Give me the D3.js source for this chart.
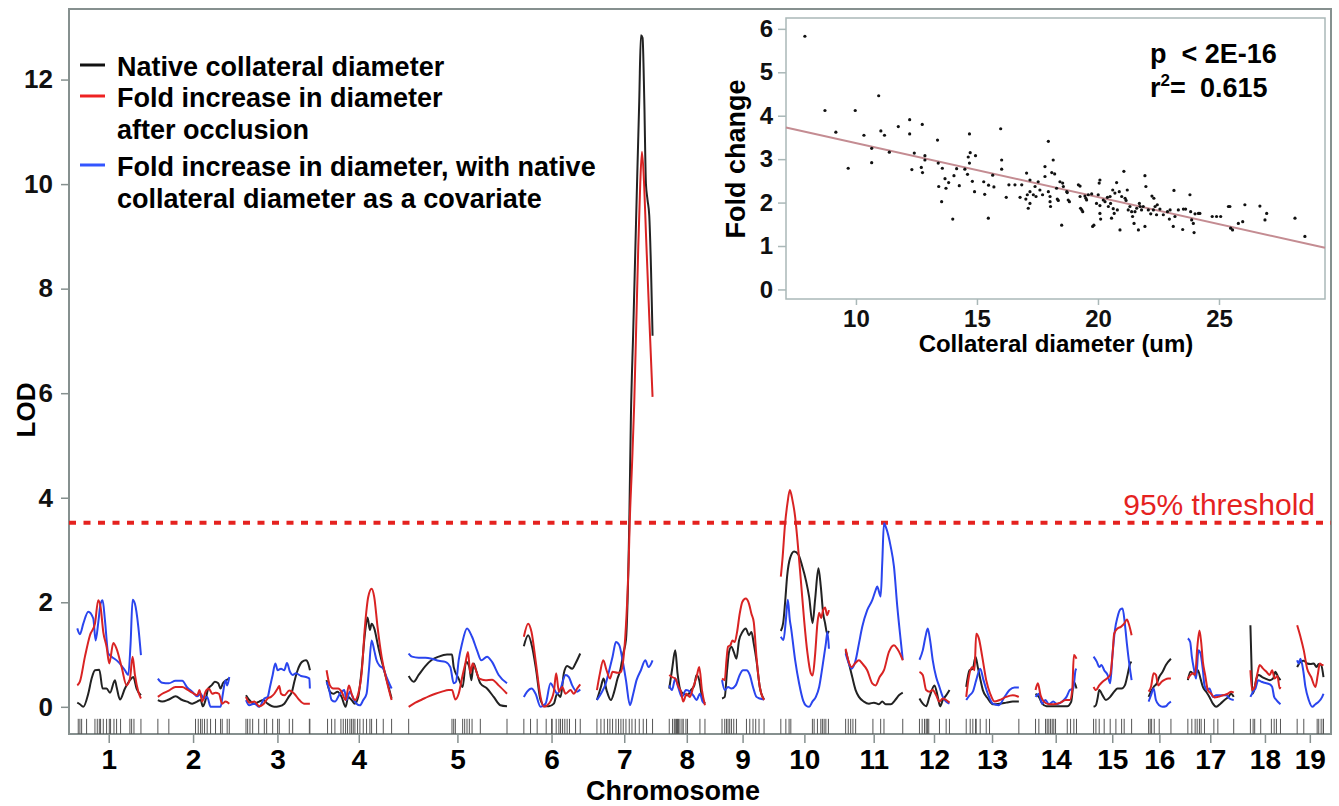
<!DOCTYPE html>
<html>
<head>
<meta charset="utf-8">
<script src="https://cdn.jsdelivr.net/npm/d3@7/dist/d3.min.js"></script>
<style>
  body { margin: 0; background: #fff; }
  text { font-family: "Liberation Sans", Arial, Helvetica, sans-serif; }
</style>
</head>
<body>
<svg id="chart" width="1339" height="806"></svg>
<script>
// ---- data ----
var chromosomes = ["1","2","3","4","5","6","7","8","9","10","11","12","13","14","15","16","17","18","19"];
var chromLength = [85, 95, 85, 87, 131, 75, 74, 48, 56, 64, 76, 40, 70, 55, 51, 30, 61, 40, 35]; // cM
var lodTicks = [0, 2, 4, 6, 8, 10, 12];
var threshold95 = 3.52;

// native collateral diameter (black), [cM, LOD] per chromosome
var lodNative = [
  [[0,.08],[3.5,.05],[8,0],[14.6,.25],[19.1,.54],[23.5,.70],[29.3,.71],[33.7,.35],[39,.35],[43.5,.27],[50.1,.51],[52.3,.38],[56.8,.14],[63.4,.35],[70.1,.51],[74.5,.57],[78.9,.35],[84.7,.22]],
  [[0,.13],[5.8,.10],[14.6,.14],[23.5,.20],[32.4,.13],[39,.10],[45.7,.06],[52.3,.10],[56.8,.13],[59.9,.01],[63.4,.13],[67,.35],[71.4,.41],[75.8,.48],[80.3,.45],[83.4,.35],[86.5,.45],[90,.50],[94.5,.54]],
  [[0,.22],[4.4,.13],[11.1,.06],[17.7,.10],[23.1,.13],[28.8,.06],[37.7,0],[44.3,.01],[51,.06],[56.8,.19],[61.2,.29],[64.3,.48],[68.7,.70],[74.5,.86],[79.8,.89],[83.4,.80],[85.1,.70]],
  [[0,.51],[4.4,.29],[8.9,.25],[14.6,.29],[20,.19],[25.3,0],[28.8,.19],[33.3,.13],[37.7,.06],[42.1,.19],[46.6,.70],[51,1.40],[54.5,1.71],[57.6,1.47],[59.9,1.59],[63.4,1.50],[68.7,1.15],[75.4,.76],[81.2,.45],[86.5,.16]],
  [[0,.59],[6.7,.48],[13.3,.61],[22.2,.78],[31,.90],[39.9,.96],[51,1.0],[57.6,1.0],[59.9,.76],[66.5,.54],[71.8,.38],[76.3,.86],[80.7,.76],[83.4,.51],[86.5,.83],[89.6,.70],[95.3,.45],[104.2,.35],[113.1,.19],[122,.03],[130.8,.01]],
  [[0,1.16],[5.7,1.37],[11,1.15],[16.4,.70],[22.2,.13],[27.9,.01],[33.3,.01],[39.9,.06],[44.3,.25],[48.8,.19],[53.2,.64],[57.6,.78],[64.3,.73],[68.7,.83],[75,1.02]],
  [[0,.13],[5.3,.38],[8.8,.54],[12.8,.32],[18.6,.13],[23,.29],[27.4,.54],[31,.70],[35,1.02],[38.6,1.28],[43,3.5],[45.2,5.55],[48.3,7.2],[51,8.7],[53.6,10.15],[56.3,11.6],[58.5,12.85],[60.7,12.8],[63,11.6],[65.2,10.0],[67.3,9.7],[69.6,9.4],[71.9,8.4],[74,7.1]],
  [[0,.35],[3.6,.70],[8,1.08],[11,.64],[15.6,.29],[20,.25],[24.3,.22],[28.9,.32],[33.3,.41],[36.3,.61],[39.9,.51],[43.5,.19],[47.5,.06]],
  [[0,.16],[3.6,.19],[6.7,.70],[9.3,1.05],[12.5,1.15],[15.6,1.05],[19.2,.92],[22.6,1.27],[27.1,1.43],[31.5,1.50],[35.9,1.37],[39.1,1.43],[42.2,1.21],[45.8,.89],[50.2,.38],[55.9,.14]],
  [[0,1.45],[3.1,1.6],[5.7,2.0],[8.4,2.5],[12.4,2.85],[17.7,2.97],[23,2.92],[28.3,2.7],[33.7,2.4],[37.7,2.1],[42.2,1.6],[45.6,2.05],[50,2.65],[53.2,2.3],[56.3,1.79],[58.9,1.6],[61.6,1.4],[64,1.45]],
  [[0,1.08],[4.4,.83],[8.8,.57],[13.3,.32],[17.7,.19],[24.3,.10],[31,.06],[37.7,.08],[44.3,.05],[48.7,.10],[53.2,.05],[59.9,.05],[66.5,.14],[70.9,.22],[76,.27]],
  [[0,.16],[4.4,.06],[8.9,.01],[13.3,.19],[20,.41],[24.4,.19],[27.5,.01],[31,.13],[35.5,.22],[39.9,.32]],
  [[0,.38],[4.4,.70],[8.8,.73],[12.4,.96],[15.4,.76],[18.6,.54],[22.1,.32],[28.7,.16],[35.4,.05],[44.3,.06],[53.2,.08],[62,.10],[70,.10]],
  [[0,.25],[4.4,.19],[8.9,.06],[14.6,.01],[24.3,.01],[33.3,.01],[42.2,.01],[47.5,.10],[51,.48],[54.5,.35]],
  [[0,0],[3.1,.03],[5.3,.16],[7.5,.32],[12,.22],[16.4,.13],[22.1,.19],[27.4,.29],[31.9,.35],[37.3,.35],[41.6,.41],[45.2,.61],[48.7,.83],[50.6,.86]],
  [[0,.19],[3.1,.29],[6.7,.38],[11,.45],[14.1,.57],[18.6,.67],[23,.80],[29.7,.92]],
  [[0,.51],[3.5,.67],[6.7,.64],[9.7,.61],[13.3,.70],[16.8,.54],[20,.38],[24.3,.29],[28.7,.19],[33.3,.06],[37.7,0],[43.4,.06],[48.7,.13],[54,.19],[57.6,.25],[61,.19]],
  [[0,1.56],[1.3,.89],[2.7,.25],[4.9,.32],[8,.54],[11,.61],[15.6,.57],[20,.54],[25.7,.51],[30.2,.54],[33.3,.67],[36.9,.57],[40,.51]],
  [[0,.76],[4.4,.86],[8.8,.88],[13.3,.83],[17.7,.82],[22.1,.83],[25.7,.76],[28.7,.82],[31.9,.80],[35,.57]]
];

// fold increase in diameter after occlusion (red)
var lodFold = [
  [[0,.41],[3.5,.48],[10.2,.96],[16.9,1.37],[23.5,1.59],[27.9,2.04],[31,1.91],[34.6,1.43],[39,1.15],[42.6,.83],[47.9,1.22],[52.3,1.11],[59,.76],[65.6,.41],[70.1,.54],[73.6,.96],[76.7,.61],[81.2,.29],[84.7,.16]],
  [[0,.19],[5.8,.25],[14.6,.31],[23.5,.38],[32.4,.38],[39,.33],[45.7,.27],[52.3,.22],[55.4,.32],[59,.10],[63.4,.29],[67.8,.35],[72.3,.25],[76.7,.27],[81.2,.25],[85.6,.06],[90,.10],[95,.06]],
  [[0,.19],[4.4,.08],[11.1,.10],[17.7,.01],[23.1,.05],[28.8,.16],[33.3,.19],[37.7,.25],[42.1,.35],[44.3,.40],[46.6,.25],[51,.22],[57.6,.31],[64.3,.25],[71,.13],[77.6,.06],[85,.06]],
  [[0,.70],[4.4,.41],[8.9,.35],[15.5,.35],[20,.29],[25.3,.13],[29.7,.41],[33.3,.25],[37.7,.13],[42.1,.25],[46.6,.64],[51,1.53],[55.4,2.10],[59.9,2.26],[63.4,2.10],[67.8,1.53],[73.2,.96],[79.8,.51],[86.5,.13]],
  [[0,0],[8.9,.08],[17.7,.14],[26.6,.20],[35.5,.25],[44.3,.29],[53.2,.32],[57.6,.32],[62.1,.14],[66.5,.25],[71.8,.61],[75.4,.83],[78.9,1.05],[82,.64],[85.1,.83],[88.7,.73],[94,.54],[102,.51],[110.9,.52],[119.7,.41],[130.8,.25]],
  [[0,1.34],[5.7,1.59],[10.2,1.43],[15.6,.89],[22.2,.19],[26.6,0],[33.3,.06],[39.9,.29],[43,.64],[46.6,.29],[51,.38],[55.5,.25],[62.1,.32],[66.5,.25],[70.9,.35],[75,.43]],
  [[0,.32],[4,.64],[8.4,.89],[12.8,.70],[17.3,.54],[20.8,.67],[27.4,.65],[31.9,.67],[35,.89],[37.7,1.34],[40.7,2.17],[42.3,2.8],[43.6,3.51],[46.6,4.6],[49.6,5.8],[52.3,7.3],[55,8.8],[57.6,10.0],[59.9,10.62],[62.9,9.95],[65.2,9.06],[69.6,7.46],[74,5.93]],
  [[0,.61],[3.6,.57],[8,.54],[12.4,.38],[15.6,.29],[18.6,.10],[23,.25],[27.5,.19],[31.9,.38],[36.3,.57],[39.9,.76],[43.5,.32],[47.5,.03]],
  [[0,.54],[3.6,.51],[5.9,.89],[8,1.15],[11.2,1.18],[13.8,1.27],[16.9,1.24],[20,1.43],[23.5,1.78],[27.1,2.01],[31.5,2.07],[35.9,1.97],[39.1,1.78],[42.2,1.62],[45.8,.96],[50.2,.38],[55.9,.13]],
  [[0,2.49],[2.1,2.81],[5.7,3.51],[8.8,3.89],[12,4.15],[15.4,3.96],[19,3.64],[22.1,3.19],[26.6,2.43],[31,1.66],[35.4,1.03],[39.9,.64],[42.3,.6],[45.6,1.0],[48.7,1.6],[50.9,1.8],[53.6,1.7],[56.3,1.85],[58.9,1.9],[61.6,1.75],[64,1.85]],
  [[0,1.11],[3.5,.89],[8,.76],[12.4,.83],[17.7,.89],[22.1,.83],[28.7,.70],[35.4,.45],[39.9,.41],[45.2,.57],[51,.70],[57.6,1.05],[64.3,1.18],[68.7,1.11],[73.2,.99],[76,.89]],
  [[0,.67],[4.4,.61],[8.9,.32],[13.3,.29],[17.7,.32],[22.2,.22],[26.6,.10],[31,.16],[35.5,.13],[39.9,.08]],
  [[0,.19],[3.5,.57],[8,.76],[11,.70],[13.3,1.40],[16.8,1.31],[21.3,.96],[26.6,.51],[31.9,.25],[37.7,.10],[44.3,.13],[53.2,.19],[62,.22],[70,.19]],
  [[0,.32],[3.1,.45],[6.7,.22],[11,.10],[17.7,.05],[24.3,.05],[33.3,.08],[39.9,.13],[45.6,.13],[48.8,.32],[51,.99],[54.5,.92]],
  [[0,.38],[3.1,.32],[7.5,.41],[12,.48],[17.7,.54],[22.1,.61],[25.3,1.02],[27.4,1.40],[31.9,1.50],[36.3,1.53],[40.7,1.59],[44.3,1.67],[47.4,1.56],[50.6,1.37]],
  [[0,.29],[3.1,.38],[6.7,.64],[9.7,.61],[12.8,.41],[17.3,.48],[21.7,.52],[26.1,.54],[29.7,.54]],
  [[0,.54],[3.5,.61],[6.7,.64],[9.7,.61],[12.4,1.11],[15.4,1.46],[17.7,1.24],[20,.86],[23,.61],[26.6,.32],[31,.25],[35.4,.18],[39.9,.19],[46.6,.22],[53.2,.25],[57.6,.29],[61,.27]],
  [[0,.70],[2.3,.32],[5.7,.38],[9.3,.64],[12.4,.80],[16.9,.73],[21.3,.67],[25.7,.61],[28.9,.70],[32.3,.54],[35.9,.59],[39,.35],[40,.38]],
  [[0,1.56],[4.4,1.34],[8.8,1.08],[13.3,.73],[18.6,.57],[24.3,.38],[27.4,.61],[30.1,.83],[33.3,.80],[35,.80]]
];

// fold increase, native diameter as covariate (blue)
var lodAdjusted = [
  [[0,1.5],[3.5,1.39],[8,1.59],[14.6,1.82],[21.3,1.69],[24.4,1.27],[28,1.62],[31,1.97],[33.7,2.04],[36.8,1.66],[41.2,1.02],[45.7,.96],[54.5,.86],[63.4,.70],[67.8,.61],[70.9,1.21],[73.6,2.05],[76.7,1.97],[81.2,1.53],[84.7,.99]],
  [[0,.54],[5.8,.46],[14.6,.45],[23.5,.50],[32.4,.50],[39,.37],[45.7,.29],[52.3,.20],[56.8,.25],[61.2,.16],[65.6,.19],[70.1,0],[76.7,0],[83.4,0],[86.5,.25],[90,.51],[92.2,.41],[95,.57]],
  [[0,.13],[4.4,.03],[11.1,.06],[17.7,0],[24.4,.16],[28.8,.19],[31.9,.38],[35.5,.61],[39,.83],[42.1,.70],[46.6,.73],[51,.70],[54.5,.84],[58.5,.67],[62.1,.61],[66.5,.64],[73.2,.59],[79.8,.57],[84.3,.54],[85,.35]],
  [[0,.48],[3.1,.35],[6.7,.13],[11.1,.10],[17.7,.25],[23.5,.32],[26.6,.13],[31,.29],[35.5,.16],[39.9,.06],[44.3,.03],[48.8,.13],[53.2,.25],[56.3,.70],[59.9,1.27],[63.4,1.08],[66.5,.89],[71,.78],[75.4,.73],[79.8,.57],[86.5,.35]],
  [[0,1.02],[4.4,.96],[13.3,.94],[22.2,.94],[31,.92],[39.9,.88],[48.8,.86],[55.4,.76],[59.9,.45],[63,.48],[66.5,.89],[71,1.21],[77.6,1.50],[84.3,1.34],[90.9,1.08],[96.7,.89],[104.2,.96],[110.9,.86],[119.7,.61],[130.8,.45]],
  [[0,.19],[4.4,.29],[10.2,.35],[15.6,.25],[22.2,0],[28.9,.06],[35.5,.45],[40,.35],[44.3,.25],[48.8,.35],[55.5,.61],[59.9,.57],[64.3,.41],[70.9,.29],[75,.33]],
  [[0,.13],[5.3,.25],[11.9,.45],[16.4,.70],[20.8,.96],[25.3,1.24],[29.7,1.18],[34.1,.89],[38.6,.51],[43.9,.03],[48.3,.25],[52.7,.51],[58.5,.70],[64.3,.89],[68.7,.76],[74,.89]],
  [[0,.41],[3.6,.32],[8,.54],[12.4,.35],[16.9,.19],[22.2,.32],[27.5,.29],[31.9,.22],[36.3,.13],[40.8,.25],[44.3,.10],[47.5,.06]],
  [[0,.51],[3.6,.32],[8,.38],[12.5,.35],[18.2,.41],[23.5,.61],[27.9,.70],[32.5,.70],[36.9,.61],[41.2,.38],[45.8,.19],[50.2,.16],[55.9,.14]],
  [[0,1.34],[3.5,1.28],[6.7,1.66],[9.3,2.05],[12,1.66],[13.7,1.5],[19,.9],[24.3,.45],[29.7,.12],[33.7,.02],[37.7,0],[42,.1],[46.6,.19],[51,.38],[55.3,.76],[59.9,1.21],[62,1.43],[64,1.11]],
  [[0,1.02],[3.5,.86],[8,.73],[13.3,.89],[17.7,1.21],[22.1,1.53],[28.7,1.85],[35.4,2.04],[39.9,2.23],[42,2.30],[46.6,2.11],[48.7,2.75],[51,3.51],[54,3.42],[59.9,3.07],[64.3,2.68],[68.7,1.92],[73.2,1.28],[76,.9]],
  [[0,.90],[4.4,1.08],[8,1.34],[11,1.50],[14.2,1.27],[17.7,.89],[22.2,.57],[26.6,.38],[31,.19],[35.5,.10],[39.9,.06]],
  [[0,.13],[4.4,.22],[8.8,.29],[13.3,.51],[18.6,.73],[23,.51],[28.7,.25],[35.4,.06],[43.4,.03],[51,.19],[57.6,.32],[64.3,.37],[70,.37]],
  [[0,.19],[4.4,.25],[8.9,.06],[13.3,.13],[17.7,.05],[23.5,.10],[28.9,.05],[35.5,.10],[41.2,.19],[45.6,.32],[50.2,.35],[53.2,.70],[54.5,.73]],
  [[0,.96],[4.4,.86],[7.5,.76],[10.6,.80],[14.1,.70],[18.6,.61],[22.1,.45],[25.3,1.02],[28.3,1.46],[31.9,1.72],[35.4,1.86],[38.6,1.88],[41.6,1.59],[44.3,1.21],[47.4,.83],[50.6,.51]],
  [[0,.10],[3.1,.22],[6.7,.35],[9.7,.13],[14.1,.03],[18.6,0],[23,.01],[26.1,.06],[29.7,.10]],
  [[0,1.31],[3.1,1.24],[5.3,.96],[8,.73],[11,.54],[14.1,1.08],[16.8,1.02],[20,.70],[22.1,.41],[25.7,.32],[28.7,.35],[33.3,.19],[37.7,.22],[44.3,.22],[51,.22],[55.3,.16],[61,.13]],
  [[0,.19],[3.6,.29],[6.7,.35],[10.4,.51],[14.6,.48],[19,.46],[25.7,.43],[28.9,.38],[31.6,.19],[34.6,.13],[40,.05]],
  [[0,.89],[2.1,.83],[4.4,.92],[8,.70],[11,.38],[15.4,.13],[20,0],[24.3,.05],[28.7,.10],[33.3,.19],[35,.25]]
];

// genotyped marker positions (rug), cM per chromosome
var markers = [
  [1.3,3.5,5.8,12.4,23.5,26.6,29.3,31,34.6,39,42.6,44.3,48.8,52.3,57.6,70,72.3,75.4,84.7],
  [0,14.6,50.1,53.7,56.8,59,62.1,65.6,70.1,76.7,83.4,85.6,92.2,95],
  [0,2.2,5.3,8.9,16.9,24.4,27.5,35.5,42.1,44.3,57.6,62.1,84.3,85],
  [1.3,6.7,11.1,19.1,22.2,25.3,27.9,31,33.3,35.5,37.7,41.2,44.3,48.8,53.2,57.6,59.9,66.5,75.4,86.5],
  [0,57.6,59.9,62.1,71.8,74.5,77.6,80.7,84.3,95.3,130.8],
  [0,8.9,17.7,29.7,36.9,37.7,43,46.6,48.8,51.5,54.5,57.6,60.7,68.8,75],
  [0,5.3,9.7,14.2,17.3,20.8,25.3,28.7,31.9,35,38.6,43,46.6,51,56.3,61.6,66,74],
  [0,4.4,6.7,8,9.7,11,12.4,14.2,16.9,18.6,22.2,24.3,40.8,47.5],
  [0,3.6,5.9,8,10.2,12.5,15.6,19.2,32.5,36.9,41.2,44.8,49.2,55.9],
  [0,6.7,11,13.3,42,44.3,48.7,53.2,55.3,57.6,59.9,63.3],
  [0,3.5,6.7,9.7,13.3,36.3,46.6,51,76],
  [0,3.6,6.7,8.9,10.2,11,12.4,26.6,35.5,39.9],
  [0,5.3,8.8,12.4,13.3,18.6,26.6,31,70],
  [0,4.4,13.3,15.5,17.7,20,22.2,24.3,26.6,42.2,46.6,51,54.5],
  [0,3.1,7.5,14.1,22.1,29.7,37.3,40.7,50.6],
  [0,2.1,4,7.5,14.1,29.7],
  [0,5.3,9.7,12.4,15.4,17.7,22.1,34.6,39.9,61],
  [0,3.6,5.7,13.7,27.9,31.6,34.6,40],
  [0,8.8,26.6,28.7,31.9,34.6,35]
];

// inset: collateral diameter (um) vs fold change
var diameter = [7.89,8.72,9.17,9.68,9.97,10.33,10.65,10.65,10.94,11.03,11.18,11.38,11.75,12.22,12.22,12.31,12.41,12.74,12.70,12.75,12.85,12.85,13.37,13.40,13.42,13.54,13.57,13.68,13.72,13.83,14.0,14.05,14.16,14.27,14.50,14.61,14.64,14.69,14.69,14.72,14.81,14.90,14.94,15.28,15.32,15.47,15.48,15.65,15.70,15.98,16.02,16.02,16.21,16.32,16.57,16.78,16.85,17.02,17.05,17.08,17.12,17.19,
  17.19,17.19,17.33,17.40,17.44,17.53,17.60,17.71,17.81,17.81,17.95,17.95,18.02,18.02,18.04,18.09,18.15,18.21,18.29,18.32,18.36,18.43,18.50,18.54,18.57,18.71,18.73,18.77,18.82,19.19,19.26,19.26,19.28,19.33,19.37,19.46,19.50,19.53,19.60,19.74,19.78,19.83,19.94,20.01,20.05,20.08,20.08,20.08,20.11,20.22,20.29,20.39,20.43,20.50,20.52,20.56,20.61,20.63,20.67,20.70,20.77,20.80,20.88,20.91,20.98,21.07,21.12,21.16,21.21,21.25,21.32,21.39,21.43,21.49,21.53,21.60,21.67,21.71,21.74,21.80,21.87,21.94,21.94,21.98,22.08,22.18,22.23,22.29,22.31,22.36,22.42,22.45,22.56,22.70,22.87,22.95,22.98,23.11,23.14,23.18,23.32,23.50,23.53,23.62,23.80,23.83,23.87,23.94,23.97,24.01,24.15,24.21,24.72,24.90,25.07,25.39,25.45,25.48,25.56,25.80,25.98,26.07,26.69,26.90,26.97,28.14,28.55];
var foldChange = [5.83,4.12,3.62,2.79,4.12,3.55,3.25,2.92,4.46,3.65,3.55,3.16,3.75,3.91,3.58,2.76,3.14,3.80,2.81,2.69,3.08,2.98,3.44,2.91,2.37,2.02,2.79,2.55,2.33,2.46,1.62,2.62,2.78,2.39,2.77,2.65,3.05,3.58,2.91,3.15,2.49,2.25,3.08,2.48,2.19,1.64,2.40,2.63,2.36,3.70,2.98,2.77,2.12,2.41,2.41,2.12,2.41,2.08,2.68,2.18,1.87,2.52,
  2.25,1.98,2.18,2.37,2.14,2.48,2.29,2.18,2.60,2.83,3.41,2.25,2.14,2.02,1.91,2.69,2.98,2.66,2.33,2.08,2.05,2.48,1.48,2.45,2.37,2.25,2.23,2.06,2.02,2.41,2.38,2.14,1.87,1.83,1.79,2.15,2.10,2.06,2.18,2.20,1.45,1.48,1.98,2.18,2.45,2.52,1.93,1.75,1.62,2.06,2.02,2.12,1.91,2.14,1.98,1.64,2.29,1.86,1.75,2.22,2.46,1.83,2.25,1.37,2.14,2.72,2.10,2.05,2.29,1.83,1.91,1.79,1.68,1.52,1.79,1.87,1.37,1.98,1.91,1.83,1.91,1.45,2.62,2.37,1.83,1.74,2.15,1.83,2.10,1.91,1.72,1.95,1.85,1.72,1.79,1.62,1.83,1.45,2.28,1.68,1.83,1.38,1.85,1.85,2.18,1.79,1.60,1.52,1.31,1.74,1.75,1.75,1.68,1.68,1.68,1.91,1.91,1.41,1.37,1.52,1.56,1.95,1.92,1.60,1.75,1.64,1.22];
var fitIntercept = 4.615;
var fitSlope = -0.1244;
var insetXTicks = [10, 15, 20, 25];
var insetYTicks = [0, 1, 2, 3, 4, 5, 6];

// ---- layout ----
var frameColor = "#86908f";
var svg = d3.select("#chart");

var chromGap = 22.2;
var chromStart = [];
var pos = 0;
for (var i = 0; i < chromLength.length; i++) {
  chromStart.push(pos);
  pos += chromLength[i] + chromGap;
}
var genomeEnd = pos - chromGap;

var x = d3.scaleLinear().domain([-11, genomeEnd + 10]).range([69, 1331]);
var y = d3.scaleLinear().domain([-0.52, 13.35]).range([734, 9]);

// frame
svg.append("rect")
  .attr("x", 69).attr("y", 9)
  .attr("width", 1262).attr("height", 725)
  .attr("fill", "none")
  .attr("stroke", frameColor)
  .attr("stroke-width", 2);

// y axis
var yAxis = svg.append("g").attr("transform", "translate(69,0)")
  .call(d3.axisLeft(y).tickValues(lodTicks).tickSize(8).tickPadding(8));
yAxis.select(".domain").remove();
yAxis.selectAll("line").attr("stroke", frameColor).attr("stroke-width", 1.5);
yAxis.selectAll("text")
  .attr("fill", "#111")
  .style("font-size", "26px")
  .style("font-weight", "bold");

svg.append("text")
  .attr("transform", "translate(35,410) rotate(-90)")
  .attr("text-anchor", "middle")
  .style("font-size", "26px")
  .style("font-weight", "bold")
  .text("LOD");

// x axis: chromosome ticks at midpoints
var chromMid = chromStart.map(function(s, i) { return s + chromLength[i] / 2; });
svg.selectAll(".chrTick")
  .data(chromMid)
  .enter().append("line")
  .attr("class", "chrTick")
  .attr("x1", function(d) { return x(d); })
  .attr("x2", function(d) { return x(d); })
  .attr("y1", 734).attr("y2", 743)
  .attr("stroke", frameColor)
  .attr("stroke-width", 1.5);

svg.selectAll(".chrLabel")
  .data(chromosomes)
  .enter().append("text")
  .attr("class", "chrLabel")
  .attr("x", function(d, i) { return x(chromMid[i]); })
  .attr("y", 769)
  .attr("text-anchor", "middle")
  .style("font-size", "28px")
  .style("font-weight", "bold")
  .text(function(d) { return d; });

svg.append("text")
  .attr("x", 673).attr("y", 800)
  .attr("text-anchor", "middle")
  .style("font-size", "27px")
  .style("font-weight", "bold")
  .text("Chromosome");

// rug of markers
var rug = [];
markers.forEach(function(list, i) {
  list.forEach(function(m) { rug.push(chromStart[i] + m); });
});
svg.selectAll(".rug")
  .data(rug)
  .enter().append("line")
  .attr("class", "rug")
  .attr("x1", function(d) { return x(d); })
  .attr("x2", function(d) { return x(d); })
  .attr("y1", y(-0.52)).attr("y2", y(-0.23))
  .attr("stroke", "#555")
  .attr("stroke-width", 1);

// threshold
svg.append("line")
  .attr("x1", 69).attr("x2", 1331)
  .attr("y1", y(threshold95)).attr("y2", y(threshold95))
  .attr("stroke", "#e5221f")
  .attr("stroke-width", 4)
  .attr("stroke-dasharray", "7,7.5");

svg.append("text")
  .attr("x", 1315).attr("y", y(threshold95) - 8)
  .attr("text-anchor", "end")
  .attr("fill", "#e5221f")
  .style("font-size", "30px")
  .text("95% threshold");

// LOD curves
var line = d3.line()
  .x(function(d) { return x(d[0]); })
  .y(function(d) { return y(d[1]); })
  .curve(d3.curveMonotoneX);

var series = [
  { data: lodNative, color: "#222222" },
  { data: lodAdjusted, color: "#2a45ee" },
  { data: lodFold, color: "#d92323" }
];
series.forEach(function(s) {
  svg.append("g").selectAll("path")
    .data(s.data)
    .enter().append("path")
    .attr("d", function(d, i) {
      return line(d.map(function(p) { return [chromStart[i] + p[0], p[1]]; }));
    })
    .attr("fill", "none")
    .attr("stroke", s.color)
    .attr("stroke-width", 2);
});

// legend
var legendItems = [
  { color: "#111", lines: ["Native collateral diameter"], y: 76 },
  { color: "#ee2222", lines: ["Fold increase in diameter", "after occlusion"], y: 107 },
  { color: "#3355ff", lines: ["Fold increase in diameter, with native", "collateral diameter as a covariate"], y: 176 }
];
legendItems.forEach(function(item) {
  svg.append("line")
    .attr("x1", 80).attr("x2", 105)
    .attr("y1", item.y - 11).attr("y2", item.y - 11)
    .attr("stroke", item.color)
    .attr("stroke-width", 3);
  item.lines.forEach(function(t, k) {
    svg.append("text")
      .attr("x", 117).attr("y", item.y + k * 32)
      .style("font-size", "27px")
      .style("font-weight", "bold")
      .text(t);
  });
});

// ---- inset scatter ----
var ix = d3.scaleLinear().domain([7.11, 29.38]).range([786, 1325]);
var iy = d3.scaleLinear().domain([-0.22, 6.25]).range([299, 18]);
var inset = svg.append("g");

inset.append("rect")
  .attr("x", 786).attr("y", 18)
  .attr("width", 539).attr("height", 281)
  .attr("fill", "#fff")
  .attr("stroke", "#aab8b8")
  .attr("stroke-width", 1.5);

var ixAxis = inset.append("g").attr("transform", "translate(0,299)")
  .call(d3.axisBottom(ix).tickValues(insetXTicks).tickFormat(d3.format("d")).tickSize(6).tickPadding(5));
ixAxis.select(".domain").remove();
ixAxis.selectAll("line").attr("stroke", "#aab8b8").attr("stroke-width", 1.5);
ixAxis.selectAll("text").attr("fill", "#111").style("font-size", "24px").style("font-weight", "bold");

var iyAxis = inset.append("g").attr("transform", "translate(786,0)")
  .call(d3.axisLeft(iy).tickValues(insetYTicks).tickFormat(d3.format("d")).tickSize(8).tickPadding(5));
iyAxis.select(".domain").remove();
iyAxis.selectAll("line").attr("stroke", "#aab8b8").attr("stroke-width", 1.5);
iyAxis.selectAll("text").attr("fill", "#111").style("font-size", "24px").style("font-weight", "bold");

inset.append("text")
  .attr("x", 1056).attr("y", 352)
  .attr("text-anchor", "middle")
  .style("font-size", "24px")
  .style("font-weight", "bold")
  .text("Collateral diameter (um)");

inset.append("text")
  .attr("transform", "translate(745,159) rotate(-90)")
  .attr("text-anchor", "middle")
  .style("font-size", "27px")
  .style("font-weight", "bold")
  .text("Fold change");

var fitX = ix.domain();
inset.append("line")
  .attr("x1", ix(fitX[0])).attr("y1", iy(fitIntercept + fitSlope * fitX[0]))
  .attr("x2", ix(fitX[1])).attr("y2", iy(fitIntercept + fitSlope * fitX[1]))
  .attr("stroke", "#c48c92")
  .attr("stroke-width", 2);

inset.selectAll(".pt")
  .data(diameter)
  .enter().append("circle")
  .attr("class", "pt")
  .attr("cx", function(d) { return ix(d); })
  .attr("cy", function(d, i) { return iy(foldChange[i]); })
  .attr("r", 1.6)
  .attr("fill", "#111");

inset.append("text")
  .attr("x", 1150).attr("y", 63)
  .style("font-size", "27px")
  .style("font-weight", "bold")
  .style("white-space", "pre")
  .text("p  < 2E-16");

var r2 = inset.append("text")
  .attr("x", 1150).attr("y", 97)
  .style("font-size", "27px")
  .style("font-weight", "bold");
r2.append("tspan").text("r");
r2.append("tspan").attr("dy", -11).style("font-size", "17px").text("2");
r2.append("tspan").attr("dy", 11).text("=");
inset.append("text")
  .attr("x", 1200).attr("y", 97)
  .style("font-size", "27px")
  .style("font-weight", "bold")
  .text("0.615");
</script>
</body>
</html>
